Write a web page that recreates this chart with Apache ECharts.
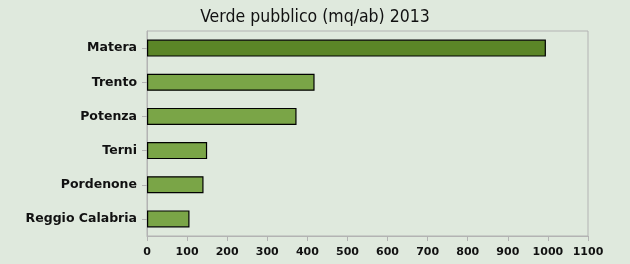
<!DOCTYPE html>
<html>
<head>
<meta charset="utf-8">
<script src="https://cdn.jsdelivr.net/npm/echarts@6/dist/echarts.min.js"></script>
<style>
html,body{margin:0;padding:0;background:#dfe9dd;}
#c{width:630px;height:264px;}
</style>
</head>
<body>
<div id="c"></div>
<script>
const categories = ["Matera", "Trento", "Potenza", "Terni", "Pordenone", "Reggio Calabria"];
const values = [995, 418, 373, 150, 141, 106];
const highlightCity = "Matera";
const xTicks = [0, 100, 200, 300, 400, 500, 600, 700, 800, 900, 1000, 1100];

const chart = echarts.init(document.getElementById('c'), null, {renderer: 'canvas'});
chart.setOption({
  backgroundColor: '#dfe9dd',
  animation: false,
  title: {
    text: 'Verde pubblico (mq/ab) 2013',
    left: 'center',
    top: 3,
    textStyle: {fontFamily: 'DejaVu Sans Condensed, DejaVu Sans', fontWeight: 'normal', fontSize: 17.5, color: '#111'}
  },
  grid: {left: 147, right: 42, top: 31, bottom: 28, show: true, borderColor: '#b3b3b3', borderWidth: 1, backgroundColor: 'transparent'},
  xAxis: {
    type: 'value', min: xTicks[0], max: xTicks[xTicks.length - 1], interval: 100,
    axisLine: {show: true, lineStyle: {color: '#b3b3b3'}},
    axisTick: {show: true, length: 5, lineStyle: {color: '#b3b3b3'}},
    splitLine: {show: false},
    axisLabel: {fontFamily: 'DejaVu Sans', fontWeight: 'bold', fontSize: 11, color: '#111', margin: 11,
      formatter: v => String(v)}
  },
  yAxis: {
    type: 'category', data: categories, inverse: true,
    axisLine: {show: true, lineStyle: {color: '#b3b3b3'}},
    axisTick: {show: true, length: 5, alignWithLabel: true, lineStyle: {color: '#b3b3b3'}},
    axisLabel: {fontFamily: 'DejaVu Sans', fontWeight: 'bold', fontSize: 12.5, color: '#111', margin: 10}
  },
  series: [{
    type: 'bar',
    barWidth: 17,
    data: values.map((v, i) => ({
      value: v,
      itemStyle: {color: categories[i] === highlightCity ? '#5b8527' : '#7aa547', borderColor: '#000', borderWidth: 1.2}
    }))
  }]
});
</script>
</body>
</html>
